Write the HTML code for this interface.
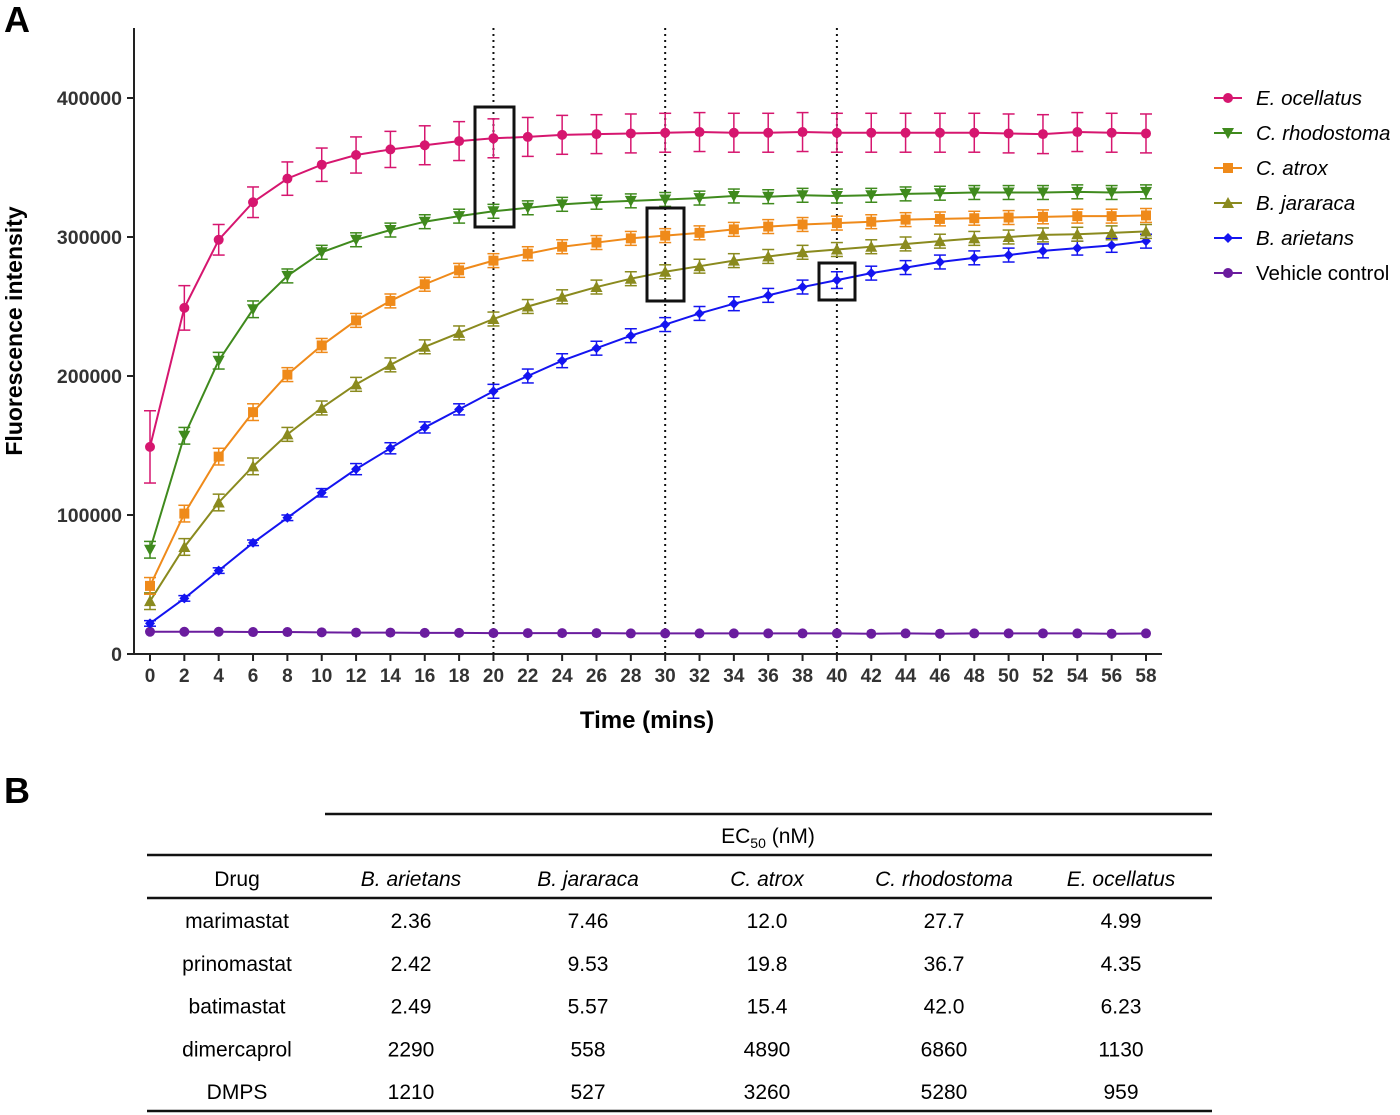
<!DOCTYPE html>
<html><head><meta charset="utf-8"><style>
body{margin:0;background:#fff;font-family:"Liberation Sans",sans-serif;}
#wrap{position:relative;width:1400px;height:1115px;overflow:hidden;}
svg text{font-family:"Liberation Sans",sans-serif;}
</style></head><body><div id="wrap">
<svg id="chart" width="1400" height="1115"></svg>
</div>
<script>
const times=[0,2,4,6,8,10,12,14,16,18,20,22,24,26,28,30,32,34,36,38,40,42,44,46,48,50,52,54,56,58];
const yTicks=[0,100000,200000,300000,400000];
const seriesNames=["E. ocellatus","C. rhodostoma","C. atrox","B. jararaca","B. arietans","Vehicle control"];
const seriesColors=["#d6166f","#3f8a1d","#ef8a1a","#8a8a1e","#1414f0","#6a1c9e"];
const seriesMarkers=["circle","tri-down","square","tri-up","diamond","circle"];
const eOcellatus=[149000,249000,298000,325000,342000,352000,359000,363000,366000,369000,371000,372000,373500,374000,374500,375000,375500,375000,375000,375500,375000,375000,375000,375000,375000,374500,374000,375500,375000,374500];
const eOcellatusErr=[26000,16000,11000,11000,12000,12000,13000,13000,14000,14000,14000,14000,14000,14000,14000,14000,14000,14000,14000,14000,14000,14000,14000,14000,14000,14000,14000,14000,14000,14000];
const cRhodostoma=[75000,157000,211000,248000,272000,289000,298000,305000,311000,315000,318500,321000,323500,325000,326000,327000,328000,329500,329000,330000,329500,330000,331000,331500,332000,332000,332000,332500,332000,332500];
const cAtrox=[49000,101000,142000,174000,201000,222000,240000,254000,266000,276000,283000,288000,293000,296000,299000,301000,303000,305500,307500,309000,310000,311000,312500,313000,313500,314000,314500,315000,315000,315500];
const bJararaca=[38000,77000,109000,135000,158000,177000,194000,208000,221000,231000,241000,250000,257000,264000,270000,275000,279000,283000,286000,289000,291000,293000,295000,297000,299000,300000,301500,302000,303000,304000];
const bArietans=[22000,40000,60000,80000,98000,116000,133000,148000,163000,176000,189000,200000,211000,220000,229000,237000,245000,252000,258000,264000,269000,274000,278000,282000,285000,287000,290000,292000,294000,297000];
const vehicle=[16000,16000,16000,15800,15800,15600,15400,15400,15200,15200,15000,15000,15000,15000,14800,14800,14800,14800,14800,14800,14800,14600,14800,14600,14800,14800,14800,14800,14600,14800];
const smallErr=[6000,6000,6000,6000,5000,5000,5000,5000,5000,5000,5000,5000,5000,5000,5000,5000,5000,5000,5000,5000,5000,5000,5000,5000,5000,5000,5000,5000,5000,5000];
const arietansErr=[2000,2000,2000,2000,2000,3000,4000,4000,4000,4000,5000,5000,5000,5000,5000,5000,5000,5000,5000,5000,6000,5000,5000,5000,5000,5000,5000,5000,5000,5000];
const seriesValues=[eOcellatus,cRhodostoma,cAtrox,bJararaca,bArietans,vehicle];
const seriesErrs=[eOcellatusErr,smallErr,smallErr,smallErr,arietansErr,smallErr.map(()=>0)];
const markLines=[20,30,40];

const svg=document.getElementById('chart');
const NS='http://www.w3.org/2000/svg';
const X0=150,X1=1146,Y0=654,Y1=98;
function xs(t){return X0+(t-0)/(58-0)*(X1-X0);}
function ys(v){return Y0-(v/400000)*(Y0-Y1);}
function mk(tag,attrs,parent){const e=document.createElementNS(NS,tag);for(const k in attrs)e.setAttribute(k,attrs[k]);(parent||svg).appendChild(e);return e;}
function txt(s,x,y,attrs,parent){const e=mk('text',Object.assign({x:x,y:y},attrs),parent);e.textContent=s;return e;}

let pa=txt('A',4,32,{'font-size':36,'font-weight':'bold'});


let pb=txt('B',4,803,{'font-size':36,'font-weight':'bold'});



let ya=mk('line',{x1:134,y1:28,x2:134,y2:655,stroke:'#222','stroke-width':2});


let xa=mk('line',{x1:133,y1:654,x2:1162,y2:654,stroke:'#222','stroke-width':2});


yTicks.forEach(v=>{
  const y=ys(v);
  mk('line',{x1:127,y1:y,x2:134,y2:y,stroke:'#222','stroke-width':2});
  const t=txt(String(v),122,y+7,{'font-size':19.5,'font-weight':'bold','text-anchor':'end',fill:'#333'});
  
  
});
times.forEach(tm=>{
  const x=xs(tm);
  mk('line',{x1:x,y1:654,x2:x,y2:661,stroke:'#222','stroke-width':2});
  const t=txt(String(tm),x,682,{'font-size':19,'font-weight':'bold','text-anchor':'middle',fill:'#333'});
  
  
});
let xt=txt('Time (mins)',647,728,{'font-size':24,'font-weight':'bold','text-anchor':'middle'});


let yt=txt('Fluorescence intensity',0,0,{'font-size':23,'font-weight':'bold','text-anchor':'middle',transform:'translate(22,331) rotate(-90)'});



markLines.forEach(t=>{
  const l=mk('line',{x1:xs(t),y1:28,x2:xs(t),y2:654,stroke:'#111','stroke-width':2,'stroke-dasharray':'2,4'});
  
  
});

function marker(type,x,y,c,g){
  if(type==='circle')return mk('circle',{cx:x,cy:y,r:5,fill:c},g);
  if(type==='square')return mk('rect',{x:x-5,y:y-5,width:10,height:10,fill:c},g);
  if(type==='tri-up')return mk('polygon',{points:`${x},${y-6} ${x+6},${y+5} ${x-6},${y+5}`,fill:c},g);
  if(type==='tri-down')return mk('polygon',{points:`${x},${y+6} ${x+6},${y-5} ${x-6},${y-5}`,fill:c},g);
  if(type==='diamond')return mk('polygon',{points:`${x},${y-5} ${x+5},${y} ${x},${y+5} ${x-5},${y}`,fill:c},g);
}
for(let s=seriesValues.length-1;s>=0;s--){
  const g=mk('g',{});
  
  
  const c=seriesColors[s],vals=seriesValues[s],errs=seriesErrs[s];
  mk('polyline',{points:vals.map((v,i)=>xs(times[i])+','+ys(v)).join(' '),fill:'none',stroke:c,'stroke-width':2},g);
  vals.forEach((v,i)=>{
    const x=xs(times[i]),e=errs[i];
    if(e>0){
      mk('line',{x1:x,y1:ys(v+e),x2:x,y2:ys(v-e),stroke:c,'stroke-width':1.5},g);
      mk('line',{x1:x-6,y1:ys(v+e),x2:x+6,y2:ys(v+e),stroke:c,'stroke-width':1.5},g);
      mk('line',{x1:x-6,y1:ys(v-e),x2:x+6,y2:ys(v-e),stroke:c,'stroke-width':1.5},g);
    }
    const m=marker(seriesMarkers[s],x,ys(v),c,g);
    
    
  });
}
let b1=mk('rect',{x:475,y:107,width:39,height:120,fill:'none',stroke:'#111','stroke-width':3});


let b2=mk('rect',{x:647,y:208,width:37,height:93,fill:'none',stroke:'#111','stroke-width':3});


let b3=mk('rect',{x:819,y:263,width:36,height:37,fill:'none',stroke:'#111','stroke-width':3});



seriesNames.forEach((n,i)=>{
  const y=98+i*35,c=seriesColors[i];
  const g=mk('g',{});
  
  
  mk('line',{x1:1214,y1:y,x2:1242,y2:y,stroke:c,'stroke-width':2},g);
  marker(seriesMarkers[i],1228,y,c,g);
  txt(n,1256,y+7,{'font-size':20.5,'font-style':i<5?'italic':'normal'},g);
});

function hl(x1,x2,y,w,name){const l=mk('line',{x1:x1,y1:y,x2:x2,y2:y,stroke:'#111','stroke-width':w});}
hl(325,1212,814,2.5,'table-top-rule');
hl(147,1212,855,2.5,'table-header-rule');
hl(147,1212,898,2.5,'table-header-bottom-rule');
hl(147,1212,1111,2.5,'table-bottom-rule');
const ec=txt('',768,843,{'font-size':21,'text-anchor':'middle'});
ec.innerHTML='EC<tspan font-size="14" dy="5">50</tspan><tspan dy="-5"> (nM)</tspan>';


const colX=[237,411,588,767,944,1121];
const heads=['Drug','B. arietans','B. jararaca','C. atrox','C. rhodostoma','E. ocellatus'];
heads.forEach((h,i)=>{const t=txt(h,colX[i],886,{'font-size':21,'text-anchor':'middle','font-style':i?'italic':'normal'});});
const rows=[['marimastat','2.36','7.46','12.0','27.7','4.99'],['prinomastat','2.42','9.53','19.8','36.7','4.35'],['batimastat','2.49','5.57','15.4','42.0','6.23'],['dimercaprol','2290','558','4890','6860','1130'],['DMPS','1210','527','3260','5280','959']];
rows.forEach((r,j)=>{r.forEach((v,i)=>{const t=txt(v,colX[i],928+j*42.8,{'font-size':21,'text-anchor':'middle'});});});
</script></body></html>
